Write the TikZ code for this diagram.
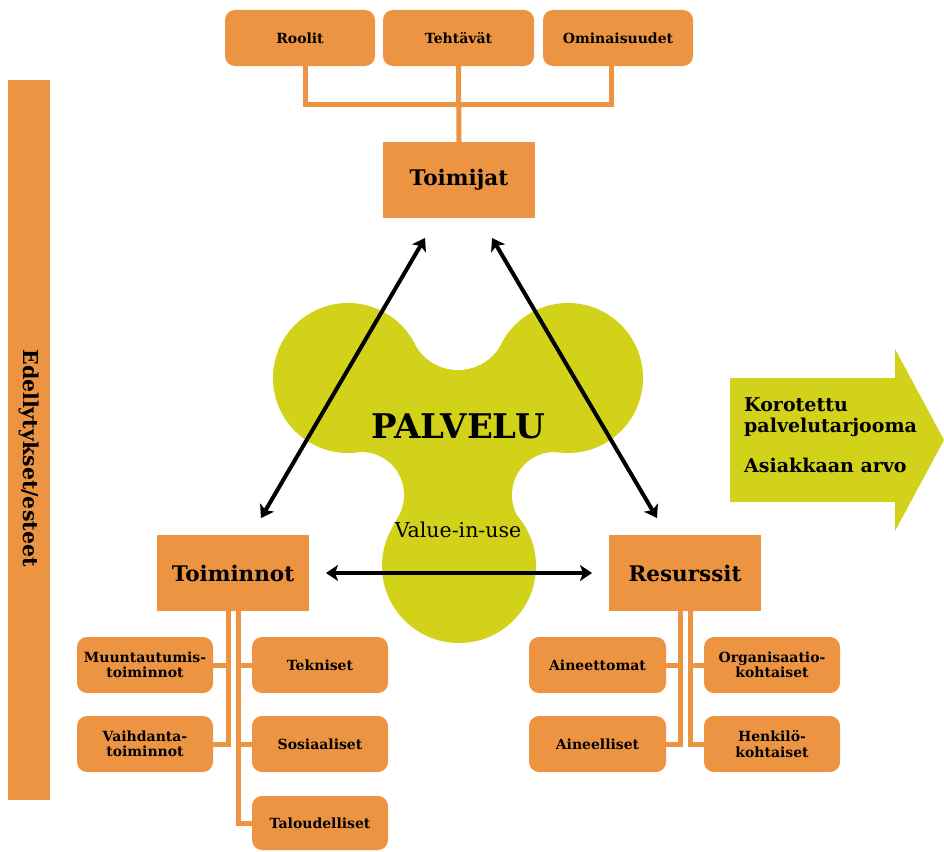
\documentclass[tikz,border=0pt]{standalone}
\usepackage{fontspec}
\setmainfont{DejaVu Serif}
\usetikzlibrary{arrows.meta,calc}
\definecolor{boxorange}{RGB}{237,148,66}
\definecolor{lime}{RGB}{210,210,26}
\begin{document}
\begin{tikzpicture}[x=1pt,y=-1pt,
  mainbox/.style={fill=boxorange, minimum width=152pt, minimum height=76pt,
    inner sep=0pt, font=\fontsize{21.5}{24}\selectfont\bfseries},
  subbox/.style={fill=boxorange, rounded corners=10pt, minimum width=136pt,
    minimum height=56pt, inner sep=0pt, align=center,
    font=\fontsize{14}{15.5}\selectfont\bfseries},
  conn/.style={draw=boxorange, line width=5pt},
  arr/.style={line width=4pt, {Stealth[length=12pt,width=16pt,inset=3pt]}-{Stealth[length=12pt,width=16pt,inset=3pt]}},
  gaintext/.style={anchor=base west, inner sep=0pt, font=\fontsize{19}{21}\selectfont\bfseries}]
\useasboundingbox (0,0) rectangle (944,851);

% --- central service blob: three lobes joined by concave necks
\fill[lime] (348,378) -- (458,321) -- (568,378) -- (555,495) -- (459,566) -- (361,495) -- cycle;
\fill[white] (458,321) circle[radius=49pt];
\fill[white] (361,495) circle[radius=43pt];
\fill[white] (555,495) circle[radius=43pt];
\fill[lime] (348,378) circle[radius=75pt];
\fill[lime] (568,378) circle[radius=75pt];
\fill[lime] (459,566) circle[radius=77pt];
\node[font=\fontsize{34}{36}\selectfont\bfseries] (palvelu) at (458,426) {PALVELU};
\node[font=\fontsize{20.5}{22}\selectfont] (viu) at (458,530) {Value-in-use};

% --- left side bar
\node[fill=boxorange, minimum width=42pt, minimum height=720pt, inner sep=0pt] (bar) at (29,440) {};
\node[rotate=-90, font=\fontsize{20.5}{22}\selectfont\bfseries] (barlbl) at (29,458) {Edellytykset/esteet};

% --- outcome arrow
\fill[lime] (730,378) -- (895,378) -- (895,349) -- (944,440) -- (895,531) -- (895,502) -- (730,502) -- cycle;
\node[gaintext] (g1) at (744,411) {Korotettu};
\node[gaintext] (g2) at (744,432) {palvelutarjooma};
\node[gaintext] (g3) at (744,472) {Asiakkaan arvo};

% --- actors
\node[mainbox] (toimijat) at (459,180) {Toimijat};
\node[subbox, minimum width=150pt] (roolit) at (300,38) {Roolit};
\node[subbox, minimum width=151pt] (teht) at (458.5,38) {Tehtävät};
\node[subbox, minimum width=150pt] (omin) at (618,38) {Ominaisuudet};
\draw[conn] ([xshift=5pt]roolit.south) -- ++(0,38) -| ([xshift=-7pt]omin.south);
\draw[conn] (teht.south) -- (toimijat.north);

% --- activities
\node[mainbox] (toiminnot) at (233,573) {Toiminnot};
\node[subbox] (muun) at (145,665) {Muuntautumis-\\toiminnot};
\node[subbox] (vaih) at (145,744) {Vaihdanta-\\toiminnot};
\node[subbox] (tekn) at (320,665) {Tekniset};
\node[subbox] (sos) at (320,744) {Sosiaaliset};
\node[subbox, minimum height=54pt] (talo) at (320,823) {Taloudelliset};
\draw[conn] ([xshift=-5pt]toiminnot.south) |- (vaih.east);
\draw[conn] ([xshift=-5pt]toiminnot.south |- muun.east) -- (muun.east);
\draw[conn] ([xshift=5pt]toiminnot.south) |- (talo.west);
\draw[conn] ([xshift=5pt]toiminnot.south |- tekn.west) -- (tekn.west);
\draw[conn] ([xshift=5pt]toiminnot.south |- sos.west) -- (sos.west);

% --- resources
\node[mainbox] (resurssit) at (685,573) {Resurssit};
\node[subbox, minimum width=137pt] (aineet) at (597.5,665) {Aineettomat};
\node[subbox, minimum width=137pt] (aineel) at (597.5,744) {Aineelliset};
\node[subbox] (org) at (772,665) {Organisaatio-\\kohtaiset};
\node[subbox] (henk) at (772,744) {Henkilö-\\kohtaiset};
\draw[conn] ([xshift=-5pt]resurssit.south) |- (aineel.east);
\draw[conn] ([xshift=-5pt]resurssit.south |- aineet.east) -- (aineet.east);
\draw[conn] ([xshift=5pt]resurssit.south) |- (henk.west);
\draw[conn] ([xshift=5pt]resurssit.south |- org.west) -- (org.west);

% --- interaction arrows
\coordinate (t1) at (425,238);
\coordinate (b1) at (261,518);
\coordinate (t2) at (492,238);
\coordinate (b2) at (657,518);
\coordinate (h1) at (326,573);
\coordinate (h2) at (592,573);
\draw[arr] (t1) -- (b1);
\draw[arr] (t2) -- (b2);
\draw[arr] (h1) -- (h2);
\end{tikzpicture}
\end{document}
